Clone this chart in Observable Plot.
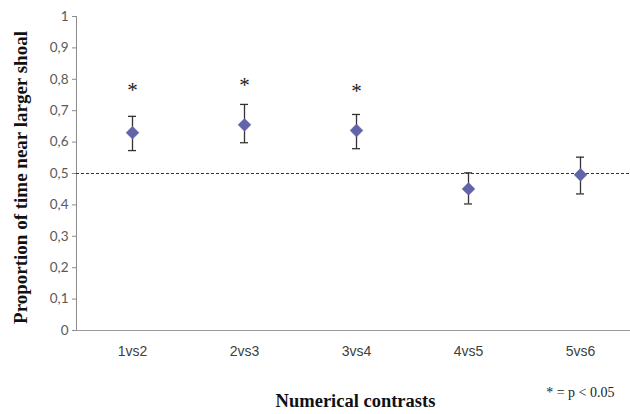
<!DOCTYPE html>
<html>
<head>
<meta charset="utf-8">
<script src="https://cdn.jsdelivr.net/npm/d3@7"></script>
<script src="https://cdn.jsdelivr.net/npm/@observablehq/plot@0.6"></script>
<style>
  body { margin: 0; background: #fff; }
  svg { display: block; }
</style>
</head>
<body>
<div id="chart"></div>
<script>
const categories = ["1vs2", "2vs3", "3vs4", "4vs5", "5vs6"];
const means = [0.630, 0.655, 0.637, 0.451, 0.496];
const lower = [0.573, 0.598, 0.579, 0.403, 0.435];
const upper = [0.682, 0.720, 0.688, 0.502, 0.552];
const significant = [true, true, true, false, false];
const starLevels = [0.775, 0.791, 0.772, null, null];
const yTicks = [0, 0.1, 0.2, 0.3, 0.4, 0.5, 0.6, 0.7, 0.8, 0.9, 1];
const yTickLabels = ["0", "0,1", "0,2", "0,3", "0,4", "0,5", "0,6", "0,7", "0,8", "0,9", "1"];
const chanceLevel = 0.5;

const data = categories.map((c, i) => ({cat: c, mean: means[i], lo: lower[i], hi: upper[i], sig: significant[i], star: starLevels[i]}));
const sigData = data.filter(d => d.sig);

const chart = Plot.plot({
  width: 630,
  height: 414,
  marginLeft: 76,
  marginTop: 16,
  marginBottom: 84,
  marginRight: 0,
  x: {domain: categories, range: [76, 636], padding: 0, label: null},
  y: {domain: [0, 1], range: [330, 16], label: null},
  marks: [
    Plot.frame({anchor: "left", stroke: "#8c8c8c", strokeWidth: 1}),
    Plot.ruleY([0], {stroke: "#9a9a9a", strokeWidth: 1.2}),
    Plot.axisY({
      ticks: yTicks,
      tickFormat: d => yTickLabels[yTicks.findIndex(t => Math.abs(t - d) < 1e-9)],
      tickSize: 4,
      tickPadding: 4,
      stroke: "#8c8c8c",
      fill: "#595959",
      fontSize: 13.5,
      fontFamily: "Lato",
      label: null
    }),
    Plot.axisX({
      tickSize: 0,
      tickPadding: 16,
      fill: "#404040",
      fontSize: 14,
      fontFamily: "Liberation Sans",
      label: null
    }),
    Plot.ruleY([chanceLevel], {stroke: "#333", strokeWidth: 1, strokeDasharray: "3,2"}),
    Plot.ruleX(data, {x: "cat", y1: "lo", y2: "hi", stroke: "#333", strokeWidth: 1.3}),
    Plot.tickY(data, {x: "cat", y: "hi", stroke: "#333", strokeWidth: 1.3, insetLeft: 52, insetRight: 52}),
    Plot.tickY(data, {x: "cat", y: "lo", stroke: "#333", strokeWidth: 1.3, insetLeft: 52, insetRight: 52}),
    Plot.dot(data, {x: "cat", y: "mean", symbol: "diamond2", r: 5.8, fill: "#6264a8", stroke: "#6264a8", strokeWidth: 0.5}),
    Plot.text(sigData, {x: "cat", y: "star", text: () => "*", fontSize: 21, fontFamily: "Liberation Serif", fill: "#222", dy: 3}),
    Plot.text(["Proportion of time near larger shoal"], {
      frameAnchor: "left", textAnchor: "middle", rotate: -90, dx: -56, dy: 4,
      fontSize: 19, fontWeight: "bold", fontFamily: "Liberation Serif", fill: "#111"
    }),
    Plot.text(["Numerical contrasts"], {
      frameAnchor: "bottom", textAnchor: "middle", dy: 76, dx: 2,
      fontSize: 18.5, fontWeight: "bold", fontFamily: "Liberation Serif", fill: "#111"
    }),
    Plot.text(["* = p < 0.05"], {
      frameAnchor: "bottom-right", textAnchor: "end", dx: -16, dy: 66,
      fontSize: 14, fontFamily: "Liberation Serif", fill: "#222"
    })
  ],
  style: {background: "#fff", overflow: "hidden"}
});
document.getElementById("chart").appendChild(chart);
</script>
</body>
</html>
